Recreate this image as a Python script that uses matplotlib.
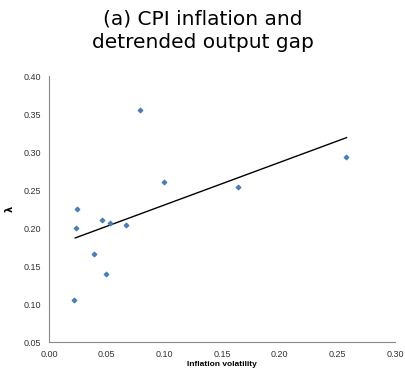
import matplotlib
matplotlib.use('Agg')
import matplotlib.pyplot as plt
import numpy as np

# Datos
volatilidad = [0.079, 0.100, 0.024, 0.023, 0.046, 0.053, 0.067, 0.039, 0.049, 0.022, 0.258, 0.164]
lam = [0.355, 0.260, 0.225, 0.200, 0.210, 0.207, 0.204, 0.166, 0.139, 0.105, 0.294, 0.254]

# Linea de tendencia (extremos)
tend_x = [0.0228, 0.258]
tend_y = [0.187, 0.319]

fig = plt.figure(figsize=(4.06, 3.75), dpi=100)
ax = fig.add_axes([0.1207, 0.088, 0.852, 0.709])

ax.scatter(volatilidad, lam, marker='D', s=5, color='#4a7ebb', zorder=3)
ax.plot(tend_x, tend_y, color='black', lw=1.0)

ax.set_xlim(0, 0.30)
ax.set_ylim(0.05, 0.40)
ax.set_xticks(np.arange(0, 0.31, 0.05))
ax.set_yticks(np.arange(0.05, 0.41, 0.05))
ax.set_xticklabels(['%.2f' % v for v in np.arange(0, 0.31, 0.05)], fontsize=6.5, family='Liberation Sans', color='#333333')
ax.set_yticklabels(['%.2f' % v for v in np.arange(0.05, 0.41, 0.05)], fontsize=6.5, family='Liberation Sans', color='#333333')
ax.tick_params(length=0, pad=6)

for s in ['top', 'right']:
    ax.spines[s].set_visible(False)
for s in ['left', 'bottom']:
    ax.spines[s].set_color('#888888')
    ax.spines[s].set_linewidth(0.8)

ax.set_xlabel('Inflation volatility', fontsize=6, fontweight='bold', family='Liberation Sans', labelpad=1)
ax.set_ylabel('λ', fontsize=7, fontweight='bold', labelpad=6)

fig.text(0.5, 0.975, '(a) CPI inflation and\ndetrended output gap', ha='center', va='top',
         fontsize=14.5, family='DejaVu Sans', linespacing=1.3)

fig.savefig('out.png', dpi=100)
